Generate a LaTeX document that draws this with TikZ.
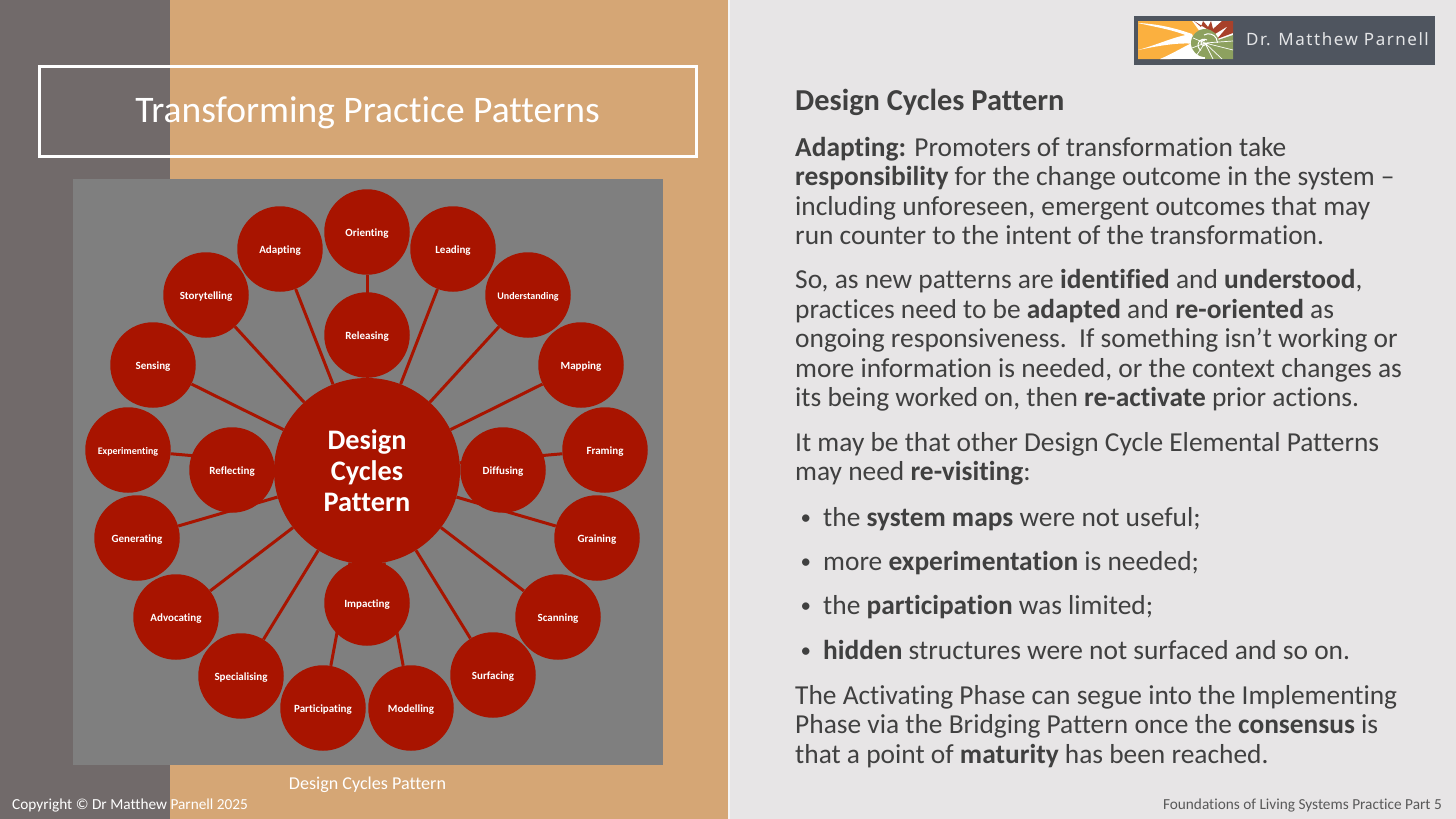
\documentclass[tikz,border=0pt]{standalone}
\usepackage{xcolor}
\usepackage{fontspec}
\setmainfont[Ligatures=NoCommon]{Carlito}
\newfontfamily\logofont[LetterSpace=9]{Noto Sans}
\usetikzlibrary{positioning}
\definecolor{stripgray}{HTML}{716A6A}
\definecolor{sand}{HTML}{D5A675}
\definecolor{panelgray}{HTML}{7F7F7F}
\definecolor{softgray}{HTML}{E7E5E6}
\definecolor{cyclered}{HTML}{A81400}
\definecolor{inktext}{HTML}{404040}
\definecolor{footgray}{HTML}{595959}
\definecolor{logoslate}{HTML}{4F555F}
\definecolor{logoorange}{HTML}{FBB03F}
\definecolor{logogreen}{HTML}{8DA15F}
\definecolor{logored}{HTML}{A8412A}
\newcommand{\slidebullet}{\makebox[28pt][l]{\hspace{5.5pt}\raisebox{1.5pt}{\fontsize{21}{21}\selectfont•}}}
\tikzset{
  hub/.style={circle, fill=cyclered, text=white, align=center, minimum size=186pt, inner sep=0pt, text height=84pt, text depth=4pt, font=\fontsize{28.3}{31}\selectfont\bfseries},
  cyclenode/.style={circle, fill=cyclered, text=white, minimum size=85.5pt, inner sep=0pt, text height=9pt, text depth=1pt, font=\fontsize{11}{13}\selectfont\bfseries},
  tightnode/.style={cyclenode, font=\fontsize{10}{12}\selectfont\bfseries},
  spoke/.style={draw=cyclered, line width=3pt},
  bodytext/.style={anchor=north west, align=left, inner sep=0pt, text=inktext, font=\fontsize{27.4}{29.5}\selectfont},
  foottext/.style={inner sep=0pt, font=\fontsize{15.3}{17}\selectfont}
}
\begin{document}
\begin{tikzpicture}[x=1pt, y=-1pt]
  \useasboundingbox (0,0) rectangle (1456,819);
  \fill[softgray] (0,0) rectangle (1456,819);
  \fill[sand] (170,0) rectangle (728,819);
  \fill[stripgray] (0,0) rectangle (170,819);
  \fill[white!60!softgray] (728,0) rectangle (729.5,819);

  \node[draw=white, line width=3pt, minimum width=657pt, minimum height=90pt, inner sep=0pt] (titlebox) at (367.5,111) {};
  \node[text=white, inner sep=0pt, font=\fontsize{37.5}{42}\selectfont] (title) at (367.5,113) {Transforming Practice Patterns};

  \fill[panelgray] (73,179) rectangle (663,765);

  \node[hub] (hub) at (367,471) {Design\\Cycles\\Pattern};
  \node[cyclenode] (orienting) at (367,232) {Orienting};
  \node[cyclenode] (leading) at (453,249) {Leading};
  \node[tightnode] (understanding) at (528,295) {Understanding};
  \node[cyclenode] (mapping) at (581,365) {Mapping};
  \node[cyclenode] (framing) at (605,450) {Framing};
  \node[cyclenode] (graining) at (597,538) {Graining};
  \node[cyclenode] (scanning) at (558,617) {Scanning};
  \node[cyclenode] (surfacing) at (493,675) {Surfacing};
  \node[cyclenode] (modelling) at (411,708) {Modelling};
  \node[cyclenode] (participating) at (323,708) {Participating};
  \node[cyclenode] (specialising) at (241,676) {Specialising};
  \node[cyclenode] (advocating) at (176,617) {Advocating};
  \node[cyclenode] (generating) at (137,538) {Generating};
  \node[tightnode] (experimenting) at (128,450) {Experimenting};
  \node[cyclenode] (sensing) at (153,365) {Sensing};
  \node[cyclenode] (storytelling) at (206,295) {Storytelling};
  \node[cyclenode] (adapting) at (280,249) {Adapting};

  \draw[spoke] (hub) -- (orienting);
  \draw[spoke] (hub) -- (leading);
  \draw[spoke] (hub) -- (understanding);
  \draw[spoke] (hub) -- (mapping);
  \draw[spoke] (hub) -- (framing);
  \draw[spoke] (hub) -- (graining);
  \draw[spoke] (hub) -- (scanning);
  \draw[spoke] (hub) -- (surfacing);
  \draw[spoke] (hub) -- (modelling);
  \draw[spoke] (hub) -- (participating);
  \draw[spoke] (hub) -- (specialising);
  \draw[spoke] (hub) -- (advocating);
  \draw[spoke] (hub) -- (generating);
  \draw[spoke] (hub) -- (experimenting);
  \draw[spoke] (hub) -- (sensing);
  \draw[spoke] (hub) -- (storytelling);
  \draw[spoke] (hub) -- (adapting);

  \node[cyclenode] (releasing) at (367,335) {Releasing};
  \node[cyclenode] (diffusing) at (503,470) {Diffusing};
  \node[cyclenode] (impacting) at (367,603) {Impacting};
  \node[cyclenode] (reflecting) at (232,470) {Reflecting};

  \node[text=white, inner sep=0pt, font=\fontsize{18.1}{20}\selectfont] (caption) at (367.5,785) {Design Cycles Pattern};
  \node[foottext, text=white, anchor=west] (copyright) at (12,805) {Copyright © Dr Matthew Parnell 2025};
  \node[foottext, text=footgray, anchor=east] (footer) at (1442,805) {Foundations of Living Systems Practice Part 5};

  \node[bodytext, font=\fontsize{30.4}{33}\selectfont\bfseries] (heading) at (795,89) {Design Cycles Pattern};
  \node[bodytext] (adaptpara) at (795,137) {\textbf{Adapting:} Promoters of transformation take\\\textbf{responsibility} for the change outcome in the system --\\including unforeseen, emergent outcomes that may\\run counter to the intent of the transformation.};
  \node[bodytext] (sopara) at (795,269.5) {So, as new patterns are \textbf{identified} and \textbf{understood},\\practices need to be \textbf{adapted} and \textbf{re-oriented} as\\ongoing responsiveness.\ \ If something isn’t working or\\more information is needed, or the context changes as\\its being worked on, then \textbf{re-activate} prior actions.};
  \node[bodytext] (maypara) at (795,432) {It may be that other Design Cycle Elemental Patterns\\may need \textbf{re-visiting}:};
  \node[bodytext] (bulletmaps) at (795,507) {\slidebullet the \textbf{system maps} were not useful;};
  \node[bodytext] (bulletexp) at (795,551) {\slidebullet more \textbf{experimentation} is needed;};
  \node[bodytext] (bulletpart) at (795,595) {\slidebullet the \textbf{participation} was limited;};
  \node[bodytext] (bullethidden) at (795,640) {\slidebullet\textbf{hidden} structures were not surfaced and so on.};
  \node[bodytext] (phasepara) at (795,685) {The Activating Phase can segue into the Implementing\\Phase via the Bridging Pattern once the \textbf{consensus} is\\that a point of \textbf{maturity} has been reached.};

  \node[draw=white!85!logoslate, line width=0.8pt, fill=logoslate, minimum width=302pt, minimum height=50pt, inner sep=0pt] (logobox) at (1284,40) {};
  \begin{scope}
    \clip (1138,21) rectangle (1233,59);
    \fill[white] (1138,21) rectangle (1233,59);
    \fill[logoorange] (1138,21) -- (1192,21) -- (1200,32) -- (1185,50) -- (1170,59) -- (1138,59) -- cycle;
    \fill[white] (1138,23) .. controls (1160,24) and (1178,29) .. (1192,34) -- (1190,37) .. controls (1175,30) and (1155,27) .. (1138,23) -- cycle;
    \fill[white] (1138,50) .. controls (1160,44) and (1175,36) .. (1192,34) -- (1196,44) .. controls (1178,42) and (1158,46) .. (1138,50) -- cycle;
    \fill[white] (1160,59) .. controls (1172,54) and (1185,46) .. (1194,42) -- (1198,50) .. controls (1190,50) and (1180,55) .. (1172,59) -- cycle;
    \fill[logored] (1194,21) -- (1201,27) -- (1203,21) -- (1208,27) -- (1211,21) -- (1213,29) -- (1222,21) -- (1233,21) -- (1233,33) -- (1217,39) -- (1228,26) -- (1215,34) -- cycle;
    \fill[logogreen] (1233,35) -- (1233,59) -- (1205,59) -- (1205,43) -- (1218,40) -- cycle;
    \fill[logogreen] (1205,43) circle[radius=14];
    \draw[white, line width=0.7pt] (1205,43) -- (1222,59) (1205,43) -- (1233,50) (1205,43) -- (1213,59) (1205,43) -- (1233,41) (1205,43) -- (1196,56) (1205,43) -- (1192,48) (1205,43) -- (1193,38);
    \draw[white, line width=1pt] (1206,43) arc[start angle=0, end angle=300, radius=2.5] (1207,40) arc[start angle=300, end angle=120, radius=6] (1204,35) arc[start angle=240, end angle=360, radius=9];
  \end{scope}
  \node[text=white!85!logoslate, inner sep=0pt, anchor=west, font=\fontsize{17}{19}\selectfont\logofont] (logoname) at (1246,39.5) {Dr. Matthew Parnell};
\end{tikzpicture}
\end{document}
